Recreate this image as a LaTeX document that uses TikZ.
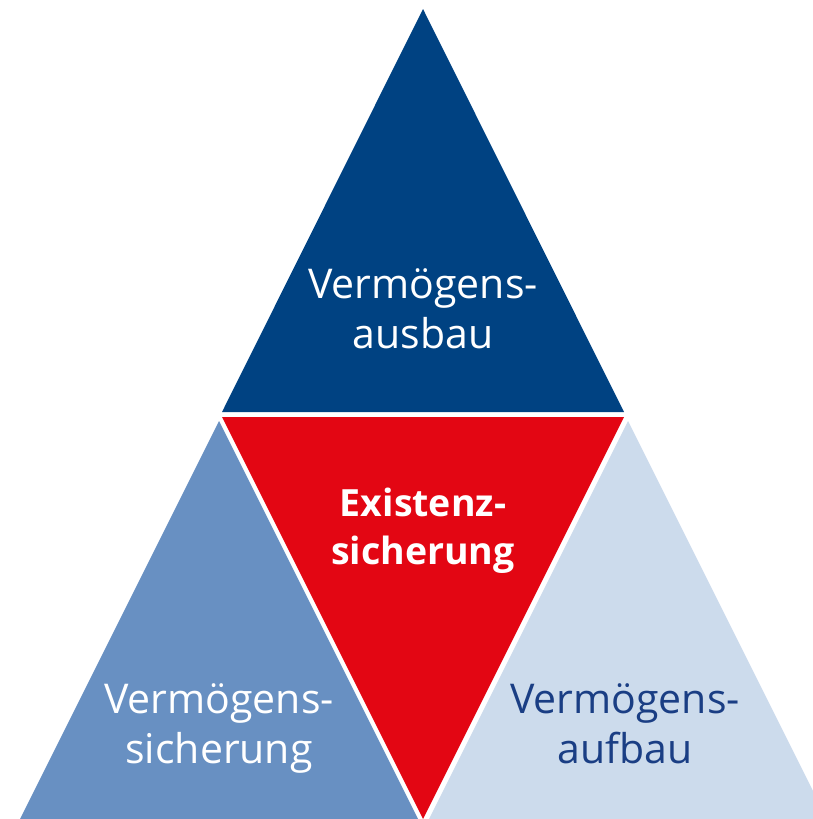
\documentclass[tikz,border=0pt]{standalone}
\usepackage{fontspec}
\setmainfont{Open Sans}
\definecolor{topblue}{HTML}{004282}
\definecolor{midred}{HTML}{E30613}
\definecolor{leftblue}{HTML}{6890C2}
\definecolor{rightblue}{HTML}{CCDBEC}
\definecolor{darktext}{HTML}{1A3E84}
\begin{document}
\begin{tikzpicture}[x=1pt,y=-1pt,
  lbl/.style={inner sep=0pt,anchor=base,font=\fontsize{41}{50}\selectfont},
  blbl/.style={inner sep=0pt,anchor=base,font=\fontsize{37.5}{48}\selectfont\bfseries}]
\useasboundingbox (0,0) rectangle (813,819);
\clip (0,0) rectangle (813,819);
\fill[topblue] (423,9) -- (624,412) -- (222,412) -- cycle;
\fill[midred] (222,417) -- (624,417) -- (423,819) -- cycle;
\fill[leftblue] (219,421) -- (429,841) -- (9,841) -- cycle;
\fill[rightblue] (628,421) -- (838,841) -- (418,841) -- cycle;
\node[lbl,text=white] (t1) at (423,298) {Vermögens-};
\node[lbl,text=white] (t2) at (423,348) {ausbau};
\node[blbl,text=white] (m1) at (423,516) {Existenz-};
\node[blbl,text=white] (m2) at (423,564) {sicherung};
\node[lbl,text=white] (l1) at (219,713) {Vermögens-};
\node[lbl,text=white] (l2) at (219,763) {sicherung};
\node[lbl,text=darktext] (r1) at (625,713) {Vermögens-};
\node[lbl,text=darktext] (r2) at (625,763) {aufbau};
\end{tikzpicture}
\end{document}
